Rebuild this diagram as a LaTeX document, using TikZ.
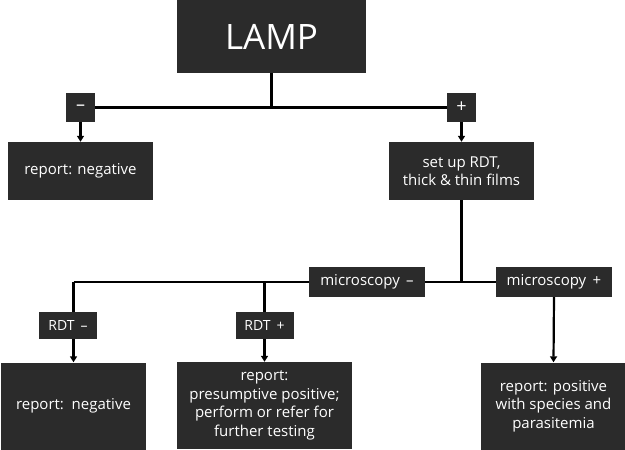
\documentclass[tikz,border=0pt]{standalone}
\usepackage{fontspec}
\setmainfont{Open Sans}
\usetikzlibrary{positioning,backgrounds,arrows.meta}
\definecolor{boxgray}{RGB}{43,43,43}
\tikzset{>={Triangle[length=6pt,width=7pt]}}
\tikzset{
  box/.style={fill=boxgray,text=white,inner sep=0pt,align=center,font=\fontsize{15}{18.5}\selectfont},
  signbox/.style={box,minimum width=29,minimum height=29,font=\fontsize{18}{20}\selectfont},
  link/.style={line width=2.2pt},
}

\begin{document}
\begin{tikzpicture}[x=1pt,y=-1pt]
\useasboundingbox (0,0) rectangle (625,450);
% first test
\node[box,minimum width=189,minimum height=73,font=\fontsize{35}{40}\selectfont] (lamp) at (271.5,36.5) {LAMP};
\node[signbox] (neg) at (80.5,107.5) {–};
\node[signbox] (pos) at (461.5,107.5) {+};
\node[box,minimum width=145,minimum height=58] (repneg) at (80.5,171) {report: negative};
\node[box,minimum width=145,minimum height=58] (setup) at (461.5,171) {set up RDT,\\thick \& thin films};
% microscopy
\node[box,minimum width=116,minimum height=30] (micneg) at (367,282) {microscopy \,–};
\node[box,minimum width=116,minimum height=30] (micpos) at (554,282) {microscopy \,+};
\node[box,minimum width=58,minimum height=27,font=\fontsize{14}{17}\selectfont] (rdtneg) at (68,325.5) {RDT \,–};
\node[box,minimum width=58,minimum height=27,font=\fontsize{14}{17}\selectfont] (rdtpos) at (264.5,325.5) {RDT \,+};
% reports
\node[box,minimum width=145,minimum height=87] (repneg2) at (73.5,406) {report:\ \ negative};
\node[box,minimum width=175,minimum height=87] (reppres) at (264.5,405.5) {report:\\presumptive positive;\\perform or refer for\\further testing};
\node[box,minimum width=145,minimum height=87] (reppos) at (553.5,406) {report: positive\\with species and\\parasitemia};

\coordinate (lampsplit) at (lamp.south |- neg);
\coordinate (micsplit) at (setup.south |- micneg);
\coordinate (rdtsplit) at (repneg2.north |- micneg);
\coordinate (rdtmid) at (reppres.north |- micneg);

\begin{scope}[on background layer]
\draw[link] (lamp.south) -- (lampsplit);
\draw[link] (neg) -- (pos);
\draw[link,->] (neg.south) -- (repneg.north);
\draw[link,->] (pos.south) -- (setup.north);
\draw[link] (setup.south) -- (micsplit);
\draw[link] (rdtsplit) -- (micpos);
\draw[link,->] (rdtsplit) -- (repneg2.north);
\draw[link,->] (rdtmid) -- (reppres.north);
\draw[link,->] (micpos.south) -- (reppos.north);
\end{scope}
\end{tikzpicture}
\end{document}
